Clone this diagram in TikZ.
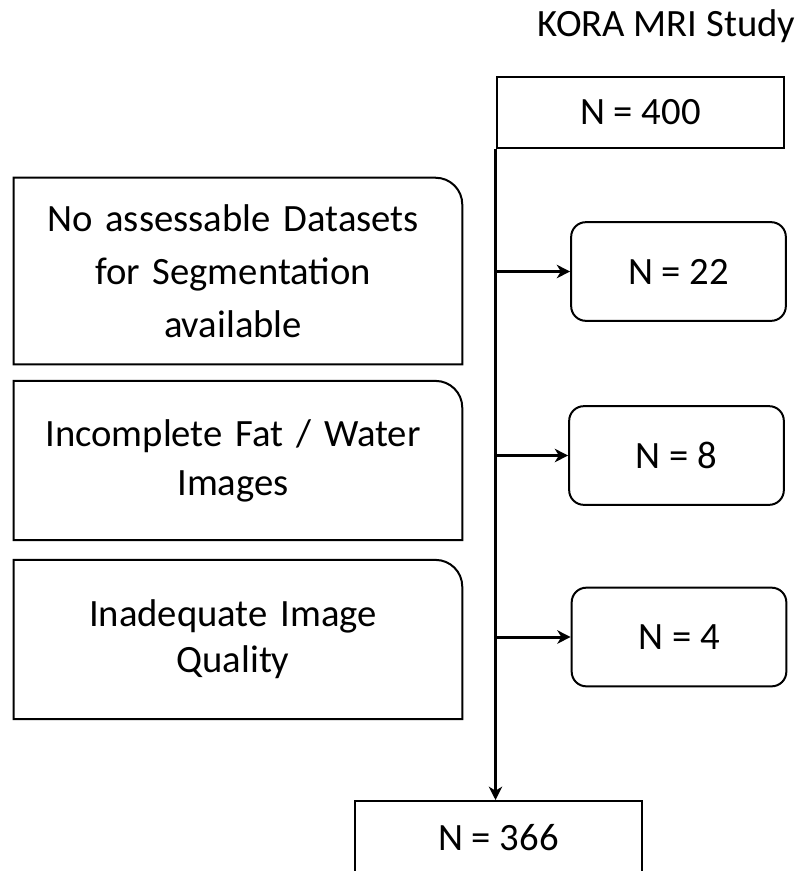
\documentclass[tikz,border=0pt]{standalone}
\usepackage{fontspec}
\setmainfont{Carlito}
\usetikzlibrary{arrows.meta}
\begin{document}
\begin{tikzpicture}[x=0.75pt,y=-0.75pt,
  txt/.style={font=\fontsize{29}{37}\selectfont},
  sqbox/.style={draw, line width=1.5pt, inner sep=0pt, minimum width=215pt, txt},
  rbox/.style={draw, line width=1.5pt, rounded corners=11pt, inner sep=0pt,
               minimum width=161pt, minimum height=74pt, txt},
  lbox/.style={inner sep=0pt, minimum width=336pt, text width=336pt, align=center},
  lframe/.style={draw, line width=1.5pt},
  trunk/.style={line width=2.25pt},
  arr/.style={line width=2.25pt, -{Stealth[length=10pt,width=10pt,inset=3pt]}}
]
\clip (0,0) rectangle (802,871);
\fill[white] (0,0) rectangle (802,871);

\node[txt, anchor=base] (title) at (666.5,36) {KORA MRI Study};

\node[sqbox, minimum height=53pt] (top) at (640.5,112.5) {N = 400};
\node[rbox] (r1) at (678.5,271.5) {N = 22};
\node[rbox] (r2) at (676.5,455.5) {N = 8};
\node[rbox] (r3) at (679,637) {N = 4};
\node[sqbox, minimum height=55.5pt] (bot) at (498.5,838) {N = 366};

\node[lbox, minimum height=139.5pt, font=\fontsize{29}{39.75}\selectfont] (l1) at (233,271)
  {No assessable Datasets\\for Segmentation\\available};
\node[lbox, minimum height=119pt, font=\fontsize{29}{36.75}\selectfont] (l2) at (233,460.5)
  {Incomplete Fat / Water\\Images};
\node[lbox, minimum height=119pt, font=\fontsize{29}{34.5}\selectfont] (l3) at (233,639.5)
  {Inadequate Image\\Quality};

\foreach \b in {l1,l2,l3}{
  \draw[lframe] ([xshift=3.75pt]\b.south west) -- ([xshift=3.75pt]\b.north west)
    -- ([xshift=-16.25pt]\b.north east)
    arc[start angle=90, end angle=0, radius=20pt] -- ([xshift=3.75pt]\b.south east) -- cycle;
}

\coordinate (spine) at ([xshift=-0.5pt]top.south west);
\draw[trunk] (spine) -- (spine |- r1.west);
\draw[trunk] (spine |- r1.west) -- (spine |- r2.west);
\draw[trunk] (spine |- r2.west) -- (spine |- r3.west);
\draw[arr] (spine |- r3.west) -- (spine |- bot.north);
\draw[arr] (spine |- r1.west) -- (r1.west);
\draw[arr] (spine |- r2.west) -- (r2.west);
\draw[arr] (spine |- r3.west) -- (r3.west);
\end{tikzpicture}
\end{document}
